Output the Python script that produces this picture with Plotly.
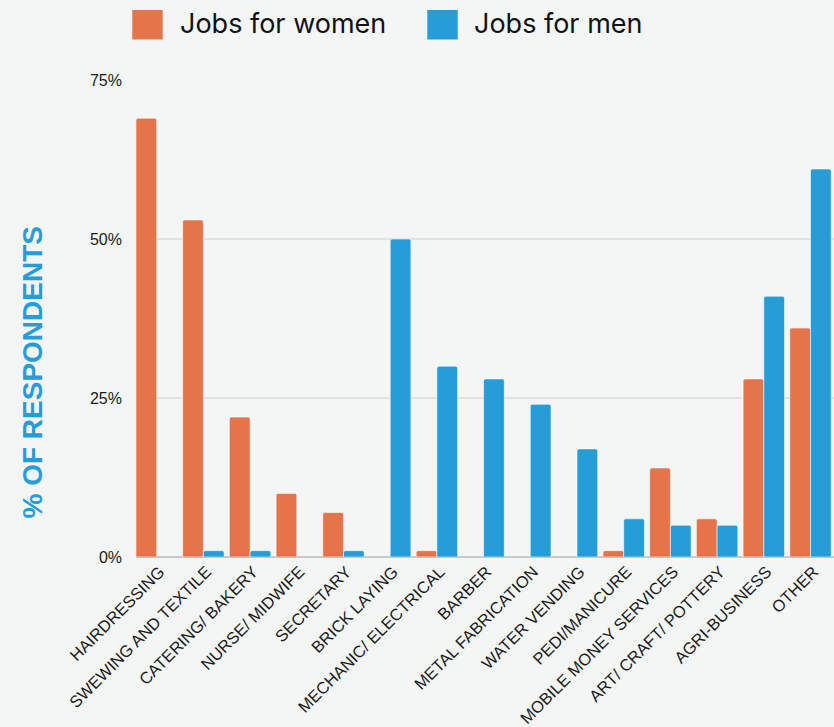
import plotly.graph_objects as go

categories = ["HAIRDRESSING", "SWEWING AND TEXTILE", "CATERING/ BAKERY", "NURSE/ MIDWIFE",
              "SECRETARY", "BRICK LAYING", "MECHANIC/ ELECTRICAL", "BARBER",
              "METAL FABRICATION", "WATER VENDING", "PEDI/MANICURE",
              "MOBILE MONEY SERVICES", "ART/ CRAFT/ POTTERY", "AGRI-BUSINESS", "OTHER"]
women = [69, 53, 22, 10, 7, None, 1, None, None, None, 1, 14, 6, 28, 36]
men = [None, 1, 1, None, 1, 50, 30, 28, 24, 17, 6, 5, 5, 41, 61]
series_names = ["Jobs for women", "Jobs for men"]
y_ticks = [0, 25, 50, 75]
y_tick_labels = ["0%", "25%", "50%", "75%"]

ORANGE = "#e6744b"
BLUE = "#279dd8"
BG = "#f4f6f6"

fig = go.Figure()
for name, vals, col in [(series_names[0], women, ORANGE), (series_names[1], men, BLUE)]:
    fig.add_trace(go.Bar(
        x=categories, y=vals, name=name, showlegend=False,
        marker=dict(color=col, line=dict(color="rgba(255,255,255,0.55)", width=1), cornerradius=2),
        hoverinfo="skip",
    ))

W, H = 834, 727
L, R, T, B = 136, 0, 80, 170
pw, ph = W - L - R, H - T - B

def px(x):
    return (x - L) / pw

def py(y):
    return (H - B - y) / ph

shapes = []
annotations = []
legend_items = [(series_names[0], ORANGE, 132.3, 178), (series_names[1], BLUE, 427.3, 471.5)]
for name, col, sx, tx in legend_items:
    shapes.append(dict(type="rect", xref="paper", yref="paper",
                       x0=px(sx), x1=px(sx + 30.4), y0=py(39.5), y1=py(10),
                       fillcolor=col, line=dict(width=0)))
    annotations.append(dict(text=name, xref="paper", yref="paper", x=px(tx), y=py(23.5),
                            xanchor="left", yanchor="middle", showarrow=False,
                            font=dict(family="Inter", size=27, color="#111111")))

annotations.append(dict(text="<b>% OF RESPONDENTS</b>", xref="paper", yref="paper",
                        x=px(32.5), y=py(373), textangle=-90, showarrow=False,
                        xanchor="center", yanchor="middle",
                        font=dict(family="Liberation Sans", size=28, color=BLUE)))

fig.update_layout(
    width=W, height=H,
    margin=dict(l=L, r=R, t=T, b=B),
    paper_bgcolor=BG, plot_bgcolor=BG,
    barmode="group", bargap=0.113, bargroupgap=0,
    shapes=shapes, annotations=annotations,
    font=dict(family="Liberation Sans", color="#1a1a1a"),
)
fig.update_xaxes(
    range=[-0.443, 14.503], tickangle=-45, showgrid=False,
    tickfont=dict(family="Liberation Sans", size=16.5, color="#1a1a1a"),
    ticks="", ticklabelstandoff=1, ticklabelshift=3,
)
fig.update_yaxes(
    range=[0, 75], tickmode="array", tickvals=y_ticks, ticktext=y_tick_labels,
    showgrid=True, gridcolor="#e0e2e2", gridwidth=1.5,
    zeroline=True, zerolinecolor="#c8caca", zerolinewidth=2,
    tickfont=dict(family="Liberation Sans", size=16, color="#1a1a1a"),
    ticks="", ticklabelstandoff=13,
)

fig.write_html("out.html", config={"displayModeBar": False},
               post_script="document.body.style.margin='0';document.body.style.overflow='hidden';")
